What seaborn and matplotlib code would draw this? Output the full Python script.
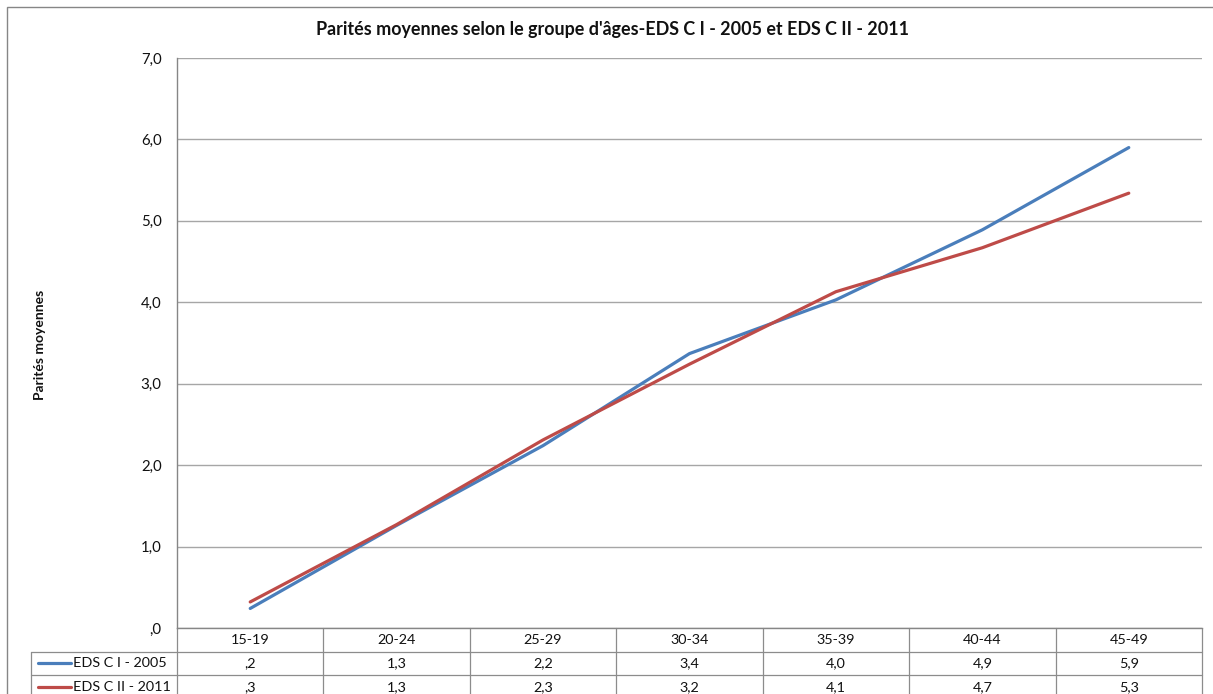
import numpy as np
import pandas as pd
import matplotlib
matplotlib.use("Agg")
import matplotlib.pyplot as plt
import matplotlib.transforms as mtransforms
from matplotlib.patches import Rectangle
from matplotlib.lines import Line2D
import seaborn as sns

# Age groups and mean parity per survey
age_groups = ["15-19", "20-24", "25-29", "30-34", "35-39", "40-44", "45-49"]
series_names = ["EDS C I - 2005", "EDS C II - 2011"]
parity_2005 = [0.24, 1.26, 2.24, 3.37, 4.03, 4.89, 5.90]
parity_2011 = [0.32, 1.27, 2.31, 3.24, 4.13, 4.67, 5.34]
y_ticks = [0, 1, 2, 3, 4, 5, 6, 7]
y_tick_labels = [",0", "1,0", "2,0", "3,0", "4,0", "5,0", "6,0", "7,0"]
colors = ["#4A7EBB", "#BE4B48"]

title = "Parités moyennes selon le groupe d'âges-EDS C I - 2005 et EDS C II - 2011"
y_label = "Parités moyennes"

df = pd.DataFrame({
    "age": age_groups * 2,
    "value": parity_2005 + parity_2011,
    "series": [series_names[0]] * len(age_groups) + [series_names[1]] * len(age_groups),
})


def fmt_value(v):
    s = f"{v:.1f}".replace(".", ",")
    if s.startswith("0,"):
        s = s[1:]
    return s


sns.set_theme(style="white")
plt.rcParams["font.family"] = ["Lato", "DejaVu Sans"]

W, H = 1213, 694
fig = plt.figure(figsize=(W / 100, H / 100), dpi=100)
fig.patch.set_facecolor("white")

TXT = "#111111"
FS = 10.8
FS_TABLE = 10.4

# plot area in pixel coordinates
left_px, right_px, top_px, bottom_px = 177, 1202, 58, 628
ax = fig.add_axes([left_px / W, 1 - bottom_px / H,
                   (right_px - left_px) / W, (bottom_px - top_px) / H])

sns.lineplot(data=df, x="age", y="value", hue="series", palette=colors,
             linewidth=2.3, legend=False, ax=ax, sort=False)

ax.set_xlim(-0.5, len(age_groups) - 0.5)
ax.set_ylim(0, 7)
ax.set_yticks(y_ticks)
ax.set_yticklabels(y_tick_labels, fontsize=FS, color=TXT)
ax.tick_params(axis="y", length=0, pad=11)
ax.set_xticks([])
ax.set_xlabel("")
ax.set_ylabel("")
ax.yaxis.grid(True, color="#A6A6A6", linewidth=1.0)
ax.set_axisbelow(True)
for side in ["top", "right"]:
    ax.spines[side].set_visible(False)
ax.spines["left"].set_color("#868686")
ax.spines["bottom"].set_color("#868686")
ax.spines["left"].set_linewidth(1.0)
ax.spines["bottom"].set_linewidth(1.0)

# data table under the plot
trans = mtransforms.blended_transform_factory(ax.transData, ax.transAxes)
rh = 23.5 / (bottom_px - top_px)
n = len(age_groups)
lc = "#8C8C8C"
lw = 0.9
x_leg = -1.5
# vertical lines
for i in range(n + 1):
    xb = -0.5 + i
    ax.add_line(Line2D([xb, xb], [0, -3 * rh], transform=trans, color=lc,
                       lw=lw, clip_on=False))
ax.add_line(Line2D([x_leg, x_leg], [-rh, -3 * rh], transform=trans, color=lc,
                   lw=lw, clip_on=False))
# horizontal lines
for k in (1, 2, 3):
    ax.add_line(Line2D([x_leg, n - 0.5], [-k * rh, -k * rh], transform=trans,
                       color=lc, lw=lw, clip_on=False))
# header row
for i, lab in enumerate(age_groups):
    ax.text(i, -0.5 * rh, lab, transform=trans, ha="center", va="center",
            fontsize=FS_TABLE, color=TXT, clip_on=False)
# series rows
for r, (name, vals, col) in enumerate(zip(series_names, [parity_2005, parity_2011], colors)):
    yc = -(1.5 + r) * rh
    ax.add_line(Line2D([-1.452, -1.222], [yc, yc], transform=trans, color=col,
                       lw=2.3, clip_on=False))
    ax.text(-1.21, yc, name, transform=trans, ha="left", va="center",
            fontsize=FS_TABLE, color=TXT, clip_on=False)
    for i, v in enumerate(vals):
        ax.text(i, yc, fmt_value(v), transform=trans, ha="center", va="center",
                fontsize=FS_TABLE, color=TXT, clip_on=False)

# titles
fig.text(613 / W, 1 - 30 / H, title, ha="center", va="center",
         fontsize=12.9, fontweight="bold", color=TXT)
fig.text(40 / W, 1 - 345 / H, y_label, ha="center", va="center",
         rotation=90, fontsize=10, fontweight="bold", color=TXT)

# chart border
fig.patches.append(Rectangle((7 / W, -0.1), 1.2, (H - 7) / H + 0.1,
                             transform=fig.transFigure, fill=False,
                             edgecolor="#868686", linewidth=1.0))

fig.savefig("out.png", dpi=100, facecolor="white")
